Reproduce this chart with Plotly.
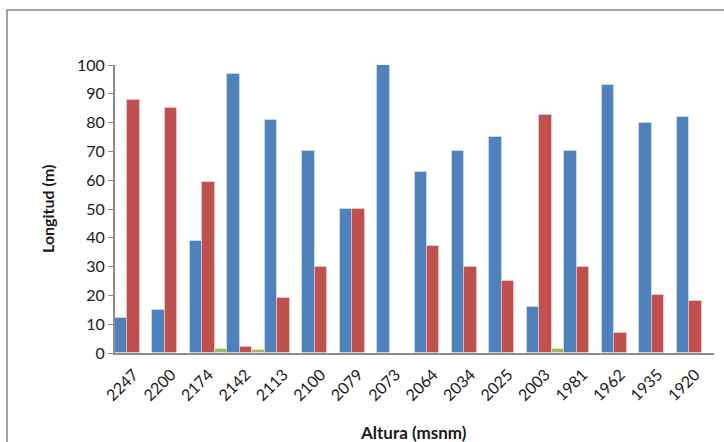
import plotly.graph_objects as go

categories = ["2247", "2200", "2174", "2142", "2113", "2100", "2079", "2073",
              "2064", "2034", "2025", "2003", "1981", "1962", "1935", "1920"]
serie_azul = [12, 15, 39, 97, 81, 70, 50, 100, 63, 70, 75, 16, 70, 93, 80, 82]
serie_roja = [88, 85, 59.5, 2, 19, 30, 50, 0, 37, 30, 25, 82.5, 30, 7, 20, 18]
serie_verde = [0, 0, 1.5, 1, 0, 0, 0, 0, 0, 0, 0, 1.5, 0, 0, 0, 0]
y_ticks = [0, 10, 20, 30, 40, 50, 60, 70, 80, 90, 100]

FONT = "Lato"
W, H = 724, 442
L, R, T, B = 115, 10, 65, 89
pw, ph = W - L - R, H - T - B

fig = go.Figure()
for vals, col in [(serie_azul, "#4F81BD"), (serie_roja, "#C0504D"), (serie_verde, "#9BBB59")]:
    fig.add_trace(go.Bar(x=categories, y=vals, marker=dict(color=col, line=dict(color="rgba(255,255,255,0.35)", width=1)),
                         showlegend=False))

fig.update_layout(
    width=W, height=H,
    margin=dict(l=L, r=R, t=T, b=B),
    paper_bgcolor="white", plot_bgcolor="white",
    barmode="group", bargap=0.0, bargroupgap=0.0,
    font=dict(family=FONT, size=16, color="#1a1a1a"),
    xaxis=dict(type="category", tickangle=-45, showgrid=False, showline=True,
               linecolor="#8c8c8c", linewidth=2, ticks="", tickfont=dict(size=16),
               ticklabelstandoff=4),
    yaxis=dict(range=[0, 100], tickvals=y_ticks, showgrid=False, showline=True,
               linecolor="#8c8c8c", linewidth=2, ticks="outside", ticklen=5,
               tickcolor="#8c8c8c", tickfont=dict(size=16), zeroline=False),
    shapes=[dict(type="rect", xref="paper", yref="paper",
                 x0=(7 - L) / pw, x1=(740 - L) / pw,
                 y0=(H - B - 460) / ph, y1=(H - B - 10) / ph,
                 line=dict(color="#868686", width=1.5), fillcolor="rgba(0,0,0,0)", layer="below")],
    annotations=[
        dict(text="<b>Longitud (m)</b>", xref="paper", yref="paper",
             x=(47 - L) / pw, y=(H - B - 209) / ph, textangle=-90, showarrow=False,
             xanchor="center", yanchor="middle", font=dict(size=16)),
        dict(text="<b>Altura (msnm)</b>", xref="paper", yref="paper",
             x=(413 - L) / pw, y=(H - B - 432) / ph, showarrow=False,
             xanchor="center", yanchor="middle", font=dict(size=17)),
    ],
)

fig.write_html("out.html")
